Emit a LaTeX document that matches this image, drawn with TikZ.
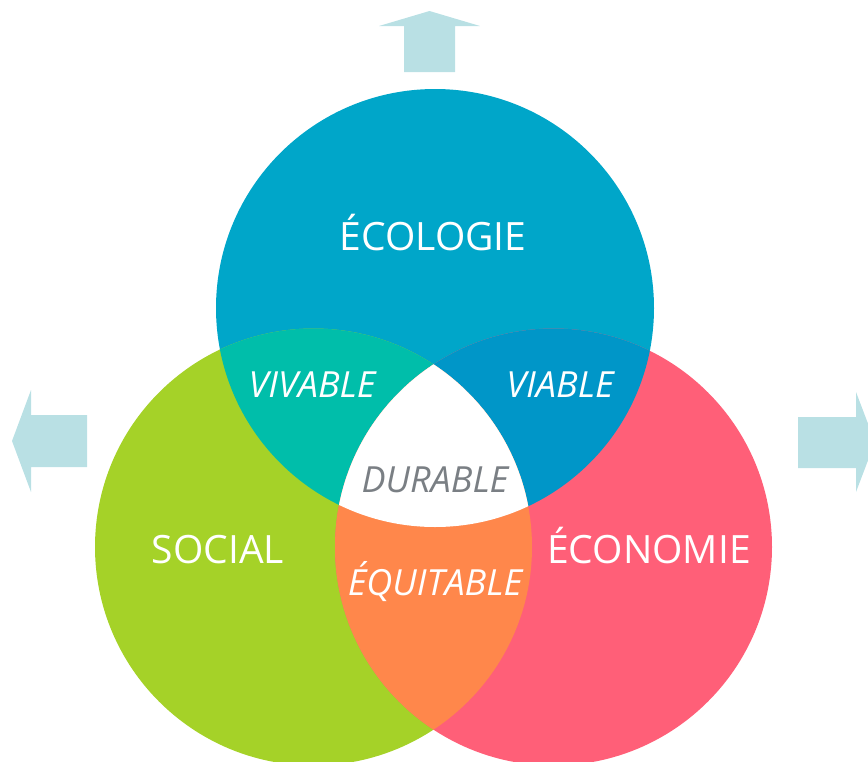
\documentclass[tikz,border=0pt]{standalone}
\usepackage{fontspec}
\setmainfont{Open Sans}
\definecolor{ecolc}{HTML}{00A6C9}
\definecolor{socc}{HTML}{A5D228}
\definecolor{econc}{HTML}{FF5F78}
\definecolor{vivc}{HTML}{00BEAA}
\definecolor{viac}{HTML}{0096C8}
\definecolor{equc}{HTML}{FF874B}
\definecolor{arrc}{HTML}{B9E0E4}
\definecolor{durc}{HTML}{7A7F84}
\tikzset{
  bigtxt/.style={anchor=base, text=white, inner sep=0pt, font=\fontsize{39}{39}\selectfont},
  ittxt/.style={anchor=base, text=white, inner sep=0pt, font=\fontsize{36}{36}\selectfont\itshape},
  arrowshape/.style={fill=arrc}
}
\begin{document}
\begin{tikzpicture}[x=1pt,y=-1pt]
\useasboundingbox (0,0) rectangle (868,761);
\clip (0,0) rectangle (868,761);
\coordinate (E) at (435,308);
\coordinate (S) at (313.5,547);
\coordinate (N) at (553.5,547);
% arrows
\fill[arrowshape] (429.5,11) -- (480,26) -- (455,26) -- (455,72) -- (404,72) -- (404,26) -- (379,26) -- cycle;
\fill[arrowshape] (12,441) -- (31,390) -- (31,415) -- (87,415) -- (87,467) -- (31,467) -- (31,492) -- cycle;
\fill[arrowshape] (875,442) -- (856,392) -- (856,417) -- (798,417) -- (798,468) -- (856,468) -- (856,492) -- cycle;
% circles
\fill[ecolc] (E) circle[radius=219pt];
\fill[socc] (S) circle[radius=218.5pt];
\fill[econc] (N) circle[radius=218.5pt];
\begin{scope}
  \clip (E) circle[radius=219pt];
  \fill[vivc] (S) circle[radius=218.5pt];
  \fill[viac] (N) circle[radius=218.5pt];
  \clip (S) circle[radius=218.5pt];
  \fill[white] (N) circle[radius=218.5pt];
\end{scope}
\begin{scope}
  \clip (S) circle[radius=218.5pt];
  \clip (N) circle[radius=218.5pt];
  \fill[equc] (0,0) rectangle (868,761);
  \fill[white] (E) circle[radius=219pt];
\end{scope}
% labels
\node[bigtxt] (ecol) at (433,250) {ÉCOLOGIE};
\node[bigtxt] (soc) at (218,563) {SOCIAL};
\node[bigtxt] (econ) at (649,563) {ÉCONOMIE};
\node[ittxt] (viv) at (312,397) {VIVABLE};
\node[ittxt] (via) at (560,397) {VIABLE};
\node[ittxt, text=durc] (dur) at (435,492) {DURABLE};
\node[ittxt] (equ) at (435,595) {ÉQUITABLE};
\end{tikzpicture}
\end{document}
